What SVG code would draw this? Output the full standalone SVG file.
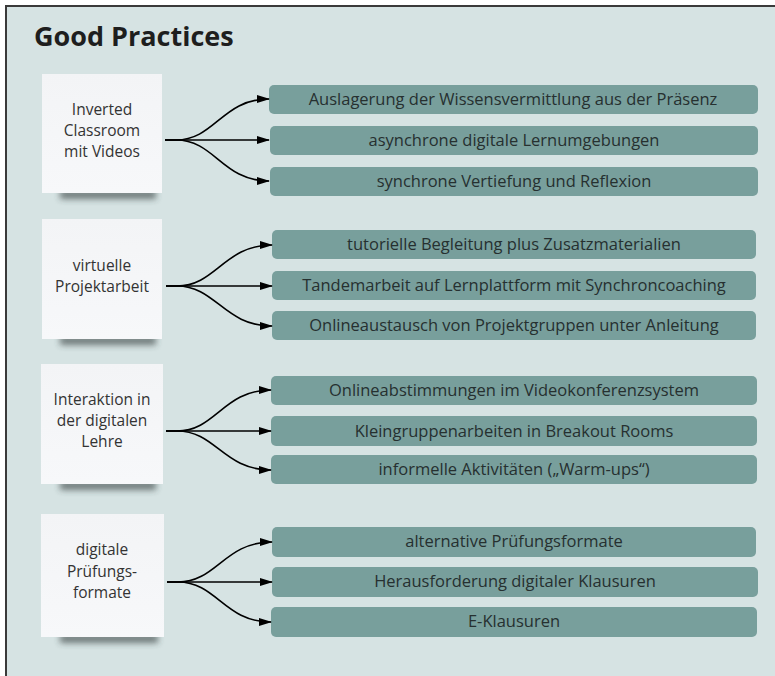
<svg xmlns="http://www.w3.org/2000/svg" width="775" height="676" viewBox="0 0 775 676">
<defs>
<style>
.bg{fill:#d6e3e3;stroke:#3a3a3a;stroke-width:2}
.note{fill:url(#ng)}
.shadow{fill:#2a3535;opacity:0.6;filter:url(#blur)}
.box{fill:#789f9c}
.nt{font-family:"Open Sans","Noto Sans",sans-serif;font-size:15.5px;fill:#333;text-anchor:middle}
.bt{font-family:"Open Sans","Noto Sans",sans-serif;font-size:16.5px;fill:#263030;text-anchor:middle}
.title{font-family:"Open Sans","Noto Sans",sans-serif;font-size:27px;font-weight:bold;fill:#1e1e1e}
.con path{fill:none;stroke:#000;stroke-width:1.6;marker-end:url(#ah)}
</style>
<linearGradient id="ng" x1="0" y1="0" x2="0" y2="1">
<stop offset="0" stop-color="#f3f4f6"/>
<stop offset="1" stop-color="#f7f8fa"/>
</linearGradient>
<filter id="blur" x="-20%" y="-100%" width="140%" height="300%"><feGaussianBlur stdDeviation="3"/></filter>
<marker id="ah" markerWidth="13" markerHeight="10" refX="12" refY="5" orient="auto" markerUnits="userSpaceOnUse">
<path d="M0,1 L13,5 L0,9 Z" fill="#000"/>
</marker>
</defs>
<rect class="bg" x="6" y="6" width="780" height="690"/>
<text class="title" x="34" y="46">Good Practices</text>

<g id="note1">
<rect class="shadow" x="60" y="190" width="96" height="9"/>
<rect class="note" x="42" y="74" width="120" height="119"/>
<text class="nt" x="102" y="115">Inverted</text>
<text class="nt" x="102" y="136">Classroom</text>
<text class="nt" x="102" y="157">mit Videos</text>
</g>
<g id="note2">
<rect class="shadow" x="60" y="336" width="96" height="9"/>
<rect class="note" x="42" y="219" width="120" height="120"/>
<text class="nt" x="102" y="271">virtuelle</text>
<text class="nt" x="102" y="292">Projektarbeit</text>
</g>
<g id="note3">
<rect class="shadow" x="60" y="481" width="96" height="9"/>
<rect class="note" x="41" y="364" width="122" height="120"/>
<text class="nt" x="102" y="405">Interaktion in</text>
<text class="nt" x="102" y="426">der digitalen</text>
<text class="nt" x="102" y="447">Lehre</text>
</g>
<g id="note4">
<rect class="shadow" x="60" y="634" width="98" height="9"/>
<rect class="note" x="41" y="514" width="123" height="123"/>
<text class="nt" x="102" y="555">digitale</text>
<text class="nt" x="102" y="577">Prüfungs-</text>
<text class="nt" x="102" y="598">formate</text>
</g>

<g id="b1a"><rect class="box" x="269" y="85" width="489" height="29" rx="5"/><text class="bt" x="513" y="105">Auslagerung der Wissensvermittlung aus der Präsenz</text></g>
<g id="b1b"><rect class="box" x="270" y="126" width="488" height="29" rx="5"/><text class="bt" x="514" y="146">asynchrone digitale Lernumgebungen</text></g>
<g id="b1c"><rect class="box" x="270" y="167" width="488" height="29" rx="5"/><text class="bt" x="514" y="187">synchrone Vertiefung und Reflexion</text></g>

<g id="b2a"><rect class="box" x="272" y="230" width="484" height="29" rx="5"/><text class="bt" x="514" y="250">tutorielle Begleitung plus Zusatzmaterialien</text></g>
<g id="b2b"><rect class="box" x="272" y="271" width="484" height="29" rx="5"/><text class="bt" x="514" y="291">Tandemarbeit auf Lernplattform mit Synchroncoaching</text></g>
<g id="b2c"><rect class="box" x="272" y="311" width="484" height="29" rx="5"/><text class="bt" x="514" y="331">Onlineaustausch von Projektgruppen unter Anleitung</text></g>

<g id="b3a"><rect class="box" x="271" y="376" width="486" height="29" rx="5"/><text class="bt" x="514" y="396">Onlineabstimmungen im Videokonferenzsystem</text></g>
<g id="b3b"><rect class="box" x="271" y="416" width="486" height="30" rx="5"/><text class="bt" x="514" y="437">Kleingruppenarbeiten in Breakout Rooms</text></g>
<g id="b3c"><rect class="box" x="271" y="455" width="486" height="29" rx="5"/><text class="bt" x="514" y="475">informelle Aktivitäten („Warm-ups“)</text></g>

<g id="b4a"><rect class="box" x="272" y="527" width="484" height="30" rx="5"/><text class="bt" x="514" y="547">alternative Prüfungsformate</text></g>
<g id="b4b"><rect class="box" x="272" y="567" width="486" height="30" rx="5"/><text class="bt" x="515" y="587">Herausforderung digitaler Klausuren</text></g>
<g id="b4c"><rect class="box" x="271" y="607" width="486" height="30" rx="5"/><text class="bt" x="514" y="627">E-Klausuren</text></g>

<g id="connectors" class="con">
<path d="M165,140 L176,140 C215,140 222,99 269,99"/>
<path d="M165,140 L269,140"/>
<path d="M165,140 L176,140 C215,140 222,181 269,181"/>
<path d="M166,286 L177,286 C216,286 224,245 272,245"/>
<path d="M166,286 L272,286"/>
<path d="M166,286 L177,286 C216,286 224,326 272,326"/>
<path d="M166,431 L177,431 C216,431 223,390 271,390"/>
<path d="M166,431 L271,431"/>
<path d="M166,431 L177,431 C216,431 223,470 271,470"/>
<path d="M167,582 L178,582 C217,582 224,542 272,542"/>
<path d="M167,582 L272,582"/>
<path d="M167,582 L178,582 C217,582 224,622 271,622"/>
</g>
</svg>
